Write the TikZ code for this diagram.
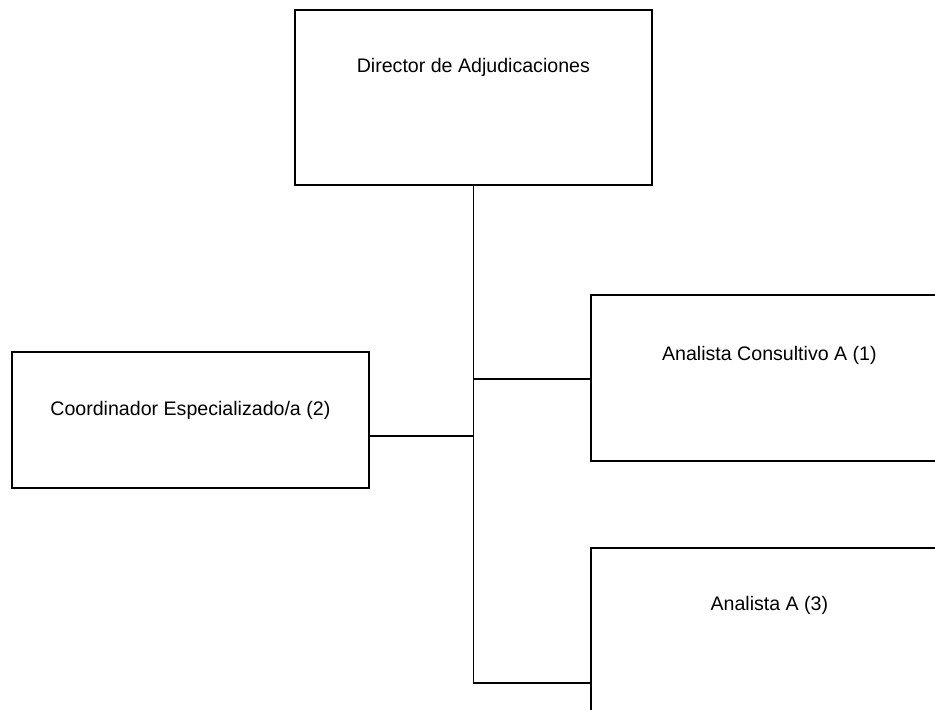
\documentclass[tikz,border=0pt]{standalone}
\usepackage{fontspec}
\setmainfont{Liberation Sans}
\usetikzlibrary{positioning}

\tikzset{
  unitbox/.style={draw, line width=1.3pt, anchor=north west, inner sep=0pt, minimum width=267.75pt},
  unitname/.style={anchor=base, inner sep=0.75pt, font=\fontsize{14.7}{17}\selectfont},
  link/.style={line width=1.2pt}
}

\begin{document}
\begin{tikzpicture}[x=0.75pt,y=0.75pt,yscale=-1,xscale=1]
%set diagram size 935 x 710, boxes on the right run past the edge
\clip (0,0) rectangle (935,710);

%Boxes
\node [unitbox, minimum height=131.25pt] (director) at (294,9) {};
\node [unitbox, minimum height=102pt] (coord) at (11,351) {};
\node [unitbox, minimum height=124.5pt] (consult) at (590,294) {};
\node [unitbox, minimum height=124.5pt] (analista) at (590,547) {};

% Text Nodes
\node [unitname, below=0pt of director.north, yshift=-64*0.75pt, anchor=base] (directorname) {Director de Adjudicaciones};
\node [unitname, below=0pt of coord.north, yshift=-64*0.75pt, anchor=base] (coordname) {Coordinador Especializado/a (2)};
\node [unitname, below=0pt of consult.north, yshift=-66*0.75pt, anchor=base] (consultname) {Analista Consultivo A (1)};
\node [unitname, below=0pt of analista.north, yshift=-63*0.75pt, anchor=base] (analistaname) {Analista A (3)};

%Junctions on the trunk
\coordinate (jconsult) at (director.south |- 0,379);
\coordinate (jcoord) at (director.south |- 0,436);
\coordinate (janalista) at (director.south |- 0,683);

%Connectors
\draw [link] (director.south) -- (janalista);
\draw [link] (jconsult) -- (jconsult -| consult.west);
\draw [link] (jcoord) -- (jcoord -| coord.east);
\draw [link] (janalista) -- (janalista -| analista.west);

\end{tikzpicture}
\end{document}
